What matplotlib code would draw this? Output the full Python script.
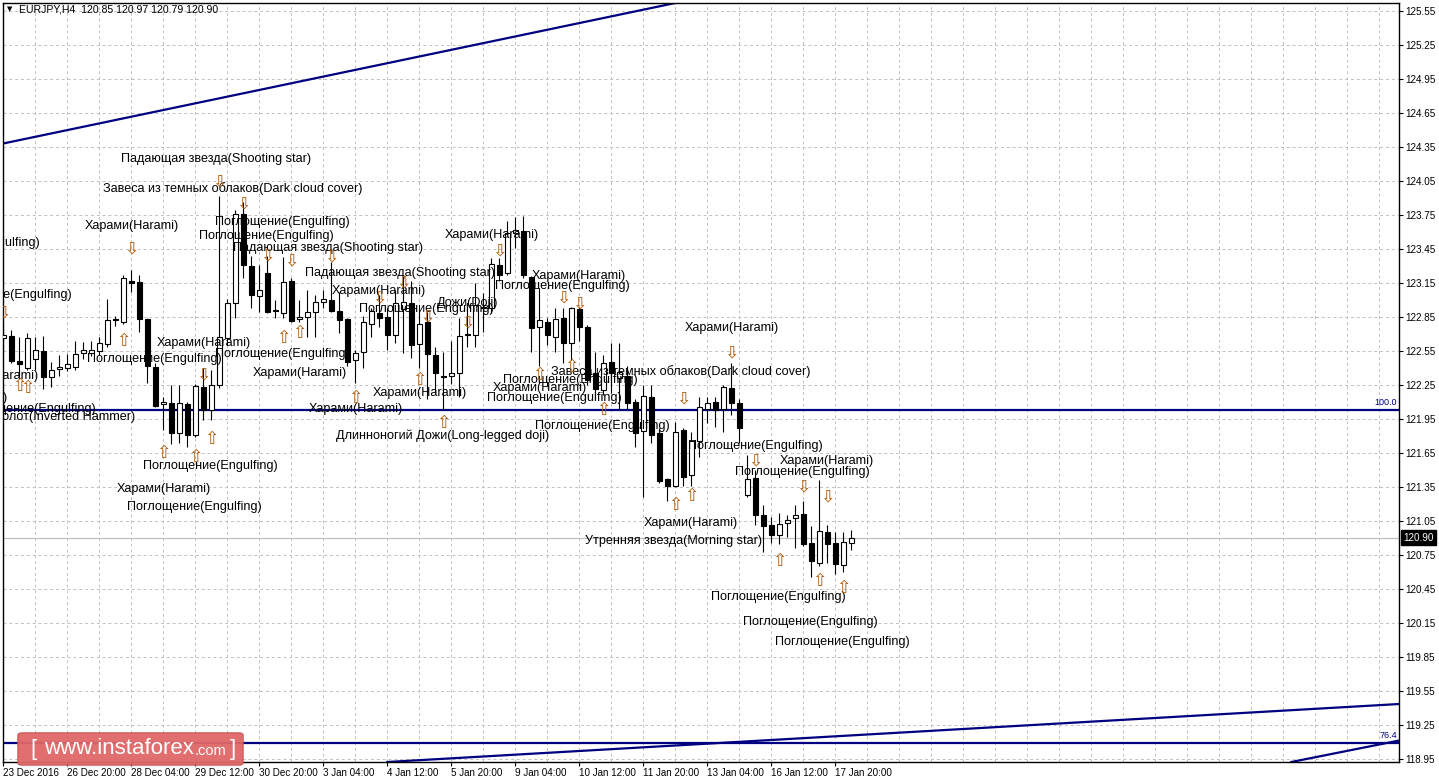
import matplotlib
matplotlib.use("Agg")
import matplotlib.pyplot as plt
import matplotlib.transforms as mtransforms
from matplotlib.patches import FancyBboxPatch

plt.rcParams['font.family'] = ['Liberation Sans', 'DejaVu Sans']

W, H = 1439, 783

# EURJPY H4 bars, left to right
opens = [122.66, 122.68, 122.46, 122.40, 122.48, 122.55, 122.32, 122.39, 122.40, 122.41,
         122.53, 122.53, 122.55, 122.61, 122.83, 122.80, 123.17, 123.16, 122.83, 122.41,
         122.08, 122.09, 121.82, 122.08, 121.81, 122.23, 122.03, 122.25, 122.66, 122.97,
         123.76, 123.30, 123.03, 123.24, 122.91, 122.88, 123.17, 122.83, 122.85, 122.89,
         122.98, 123.00, 122.90, 122.83, 122.47, 122.54, 122.79, 122.88, 122.85, 122.69,
         122.92, 122.97, 122.61, 122.80, 122.51, 122.33, 122.33, 122.35, 122.69, 122.69,
         122.93, 122.93, 123.31, 123.24, 123.59, 123.61, 123.20, 122.76, 122.80, 122.67,
         122.84, 122.62, 122.92, 122.76, 122.35, 122.20, 122.45, 122.31, 122.33, 122.10,
         121.84, 122.14, 121.82, 121.42, 121.36, 121.85, 121.45, 121.75, 122.04, 122.10,
         122.04, 122.22, 122.09, 121.28, 121.43, 121.10, 121.01, 120.92, 121.03, 121.07,
         121.11, 120.85, 120.68, 120.95, 120.85, 120.66, 120.85]
highs = [122.78, 122.73, 122.67, 122.71, 122.67, 122.68, 122.45, 122.51, 122.52, 122.64,
         122.63, 122.64, 122.67, 123.01, 122.86, 123.22, 123.26, 123.22, 122.84, 122.44,
         122.14, 122.25, 122.25, 122.10, 122.26, 122.40, 122.38, 123.92, 123.01, 123.79,
         123.86, 123.39, 123.31, 123.39, 123.00, 123.38, 123.19, 123.00, 123.09, 123.04,
         123.09, 123.33, 123.07, 122.84, 122.56, 122.86, 122.93, 123.04, 122.93, 123.09,
         123.22, 123.17, 122.91, 122.89, 122.58, 122.54, 122.64, 122.84, 122.93, 123.15,
         123.06, 123.37, 123.37, 123.70, 123.73, 123.74, 123.21, 123.09, 122.84, 122.93,
         122.93, 122.94, 122.94, 122.78, 122.54, 122.51, 122.62, 122.62, 122.42, 122.12,
         122.25, 122.25, 121.87, 121.43, 121.92, 121.87, 121.83, 122.14, 122.14, 122.14,
         122.25, 122.44, 122.12, 121.63, 121.50, 121.19, 121.08, 121.12, 121.10, 121.19,
         121.22, 121.00, 121.41, 121.01, 120.95, 120.95, 120.97]
lows = [122.54, 122.44, 122.32, 122.38, 122.38, 122.21, 122.23, 122.33, 122.37, 122.38,
        122.48, 122.50, 122.51, 122.58, 122.77, 122.79, 123.07, 122.72, 122.27, 122.05,
        121.85, 121.73, 121.74, 121.70, 121.79, 121.94, 121.94, 122.22, 122.60, 122.84,
        123.19, 122.93, 122.89, 122.88, 122.84, 122.84, 122.80, 122.80, 122.67, 122.67,
        122.93, 122.89, 122.71, 122.42, 122.27, 122.40, 122.67, 122.76, 122.56, 122.62,
        122.53, 122.49, 122.40, 122.12, 122.18, 122.03, 122.26, 122.14, 122.58, 122.58,
        122.72, 122.88, 123.17, 123.22, 123.46, 123.19, 122.54, 122.42, 122.60, 122.54,
        122.44, 122.47, 122.64, 122.25, 122.12, 122.16, 122.18, 122.03, 122.04, 121.70,
        121.26, 121.74, 121.38, 121.22, 121.35, 121.36, 121.36, 121.61, 121.91, 121.88,
        121.83, 121.98, 121.74, 121.26, 121.01, 120.77, 120.85, 120.84, 120.91, 120.81,
        120.83, 120.55, 120.65, 120.68, 120.58, 120.60, 120.79]
closes = [122.69, 122.46, 122.43, 122.66, 122.56, 122.32, 122.38, 122.41, 122.43, 122.52,
          122.56, 122.56, 122.62, 122.82, 122.82, 123.19, 123.15, 122.83, 122.42, 122.06,
          122.10, 121.82, 122.09, 121.81, 122.24, 122.03, 122.25, 122.67, 122.97, 123.76,
          123.31, 123.04, 123.09, 122.89, 122.90, 123.16, 122.81, 122.85, 122.89, 122.98,
          123.01, 122.90, 122.82, 122.45, 122.53, 122.80, 122.90, 122.84, 122.69, 122.97,
          122.98, 122.60, 122.79, 122.52, 122.35, 122.32, 122.35, 122.68, 122.70, 122.95,
          122.94, 123.32, 123.22, 123.59, 123.62, 123.22, 122.75, 122.82, 122.69, 122.83,
          122.62, 122.93, 122.76, 122.29, 122.21, 122.44, 122.35, 122.36, 122.09, 121.82,
          122.15, 121.81, 121.40, 121.36, 121.83, 121.44, 121.75, 122.05, 122.09, 122.03,
          122.23, 122.09, 121.87, 121.42, 121.10, 121.00, 120.92, 121.02, 121.06, 121.10,
          120.84, 120.69, 120.96, 120.84, 120.67, 120.86, 120.90]

date_positions = [0, 8, 16, 24, 32, 40, 48, 56, 64, 72, 80, 88, 96, 104]
date_labels = ["23 Dec 2016", "26 Dec 20:00", "28 Dec 04:00", "29 Dec 12:00", "30 Dec 20:00",
               "3 Jan 04:00", "4 Jan 12:00", "5 Jan 20:00", "9 Jan 04:00", "10 Jan 12:00",
               "11 Jan 20:00", "13 Jan 04:00", "16 Jan 12:00", "17 Jan 20:00"]
price_ticks = [118.95, 119.25, 119.55, 119.85, 120.15, 120.45, 120.75, 121.05, 121.35,
               121.65, 121.95, 122.25, 122.55, 122.85, 123.15, 123.45, 123.75, 124.05,
               124.35, 124.65, 124.95, 125.25, 125.55]

# trend lines: two anchor points (bar, price) each
trend_upper = [(0, 124.38), (84, 125.62)]
trend_lower = [(48, 118.92), (174, 119.43)]
trend_short = [(161, 118.92), (174.5, 119.11)]
level_100 = 122.03
level_764 = 119.09

# candlestick pattern labels: text, bar, price, alignment
patterns = [
    ("Падающая звезда(Shooting star)", 14.71, 124.24, 'left'),
    ("Завеса из темных облаков(Dark cloud cover)", 12.46, 123.98, 'left'),
    ("Харами(Harami)", 10.21, 123.65, 'left'),
    ("Поглощение(Engulfing)", 26.46, 123.69, 'left'),
    ("Поглощение(Engulfing)", 24.46, 123.56, 'left'),
    ("Падающая звезда(Shooting star)", 28.71, 123.46, 'left'),
    ("Падающая звезда(Shooting star)", 37.71, 123.24, 'left'),
    ("Харами(Harami)", 55.21, 123.57, 'left'),
    ("Поглощение(Engulfing)", 4.59, 123.50, 'right'),
    ("Поглощение(Engulfing)", 8.59, 123.04, 'right'),
    ("Харами(Harami)", 66.09, 123.21, 'left'),
    ("Поглощение(Engulfing)", 61.46, 123.12, 'left'),
    ("Харами(Harami)", 41.09, 123.08, 'left'),
    ("Дожи(Doji)", 54.21, 122.97, 'left'),
    ("Поглощение(Engulfing)", 44.46, 122.92, 'left'),
    ("Харами(Harami)", 85.21, 122.75, 'left'),
    ("Харами(Harami)", 19.21, 122.62, 'left'),
    ("Поглощение(Engulfing)", 10.46, 122.48, 'left'),
    ("Поглощение(Engulfing)", 26.46, 122.52, 'left'),
    ("Харами(Harami)", 31.21, 122.35, 'left'),
    ("Харами(Harami)", 4.46, 122.33, 'right'),
    ("Завеса из темных облаков(Dark cloud cover)", 68.46, 122.37, 'left'),
    ("Поглощение(Engulfing)", 62.46, 122.29, 'left'),
    ("Харами(Harami)", 61.21, 122.22, 'left'),
    ("Поглощение(Engulfing)", 60.46, 122.13, 'left'),
    ("Харами(Harami)", 46.21, 122.18, 'left'),
    ("Харами(Harami)", 38.21, 122.04, 'left'),
    ("Харами(Harami)", 0.59, 122.13, 'right'),
    ("Поглощение(Engulfing)", 11.59, 122.04, 'right'),
    ("Перевернутый молот(Inverted Hammer)", 16.46, 121.97, 'right'),
    ("Поглощение(Engulfing)", 66.46, 121.89, 'left'),
    ("Длинноногий Дожи(Long-legged doji)", 41.59, 121.80, 'left'),
    ("Поглощение(Engulfing)", 85.59, 121.71, 'left'),
    ("Харами(Harami)", 97.09, 121.58, 'left'),
    ("Поглощение(Engulfing)", 91.46, 121.48, 'left'),
    ("Поглощение(Engulfing)", 17.46, 121.53, 'left'),
    ("Харами(Harami)", 14.21, 121.33, 'left'),
    ("Поглощение(Engulfing)", 15.46, 121.17, 'left'),
    ("Харами(Harami)", 80.09, 121.03, 'left'),
    ("Утренняя звезда(Morning star)", 72.71, 120.87, 'left'),
    ("Поглощение(Engulfing)", 88.46, 120.38, 'left'),
    ("Поглощение(Engulfing)", 92.46, 120.16, 'left'),
    ("Поглощение(Engulfing)", 96.46, 119.98, 'left'),
]

down_arrows = [(0, 122.89), (16, 123.45), (27, 124.04), (30, 123.85), (33, 123.39),
               (36, 123.35), (41, 123.38), (47, 123.02), (50, 123.15), (53, 122.85),
               (58, 122.80), (62, 123.43), (70, 123.02), (72, 122.97), (25, 122.34),
               (85, 122.13), (91, 122.53), (94, 121.58), (100, 121.35), (103, 121.26)]
up_arrows = [(2, 122.24), (3, 122.22), (15, 122.64), (20, 121.65), (24, 121.61),
             (26, 121.77), (35, 122.66), (37, 122.71), (44, 122.13), (52, 122.29),
             (55, 121.91), (67, 122.34), (71, 122.41), (75, 122.03), (84, 121.19),
             (86, 121.27), (97, 120.69), (102, 120.52), (105, 120.46)]

navy = '#000080'
grid_c = '#c0c0c0'
arrow_c = '#b05a08'

fig = plt.figure(figsize=(W / 100, H / 100), dpi=100)
fig.patch.set_facecolor('white')
ax = fig.add_axes([3 / W, 21 / H, 1396 / W, 759 / H])
ax.set_xlim(-0.04, 174.46)
ax.set_ylim(118.92, 125.62)

# grid
for k in range(0, 44):
    ax.axvline(4 * k, color=grid_c, lw=0.7, ls=(0, (3, 3)), zorder=0)
for p in price_ticks:
    ax.axhline(p, color=grid_c, lw=0.7, ls=(0, (3, 3)), zorder=0)
ax.axhline(closes[-1], color=grid_c, lw=0.9, zorder=1)

# candles
n = len(opens)
for i in range(n):
    o, h, l, c = opens[i], highs[i], lows[i], closes[i]
    ax.vlines(i, l, h, color='black', lw=0.8, zorder=3)
    fill = 'white' if c > o else 'black'
    lo, hi = min(o, c), max(o, c)
    ax.bar(i, max(hi - lo, 0.006), bottom=lo, width=0.62, color=fill,
           edgecolor='black', linewidth=0.8, zorder=4)

# trend lines and levels
ax.axline(trend_upper[0], trend_upper[1], color=navy, lw=1.6, zorder=2)
ax.axline(trend_lower[0], trend_lower[1], color=navy, lw=1.6, zorder=2)
ax.axline(trend_short[0], trend_short[1], color=navy, lw=1.6, zorder=2)
ax.axhline(level_100, color=navy, lw=1.6, zorder=2)
ax.axhline(level_764, color=navy, lw=1.6, zorder=2)
ax.text(174.2, level_100 + 0.02, "100.0", color=navy, fontsize=6.5,
        ha='right', va='bottom', zorder=5)
ax.text(174.2, level_764 + 0.02, "76.4", color=navy, fontsize=6.5,
        ha='right', va='bottom', zorder=5)

# pattern labels and arrows
for txt, x, y, al in patterns:
    ax.text(x, y, txt, fontsize=9.1, color='black', ha=al, va='center',
            clip_on=True, zorder=6)
for x, y in down_arrows:
    ax.text(x, y, "⇩", fontsize=12.5, color=arrow_c, ha='center', va='center',
            family='DejaVu Sans', clip_on=True, zorder=6)
for x, y in up_arrows:
    ax.text(x, y, "⇧", fontsize=12.5, color=arrow_c, ha='center', va='center',
            family='DejaVu Sans', clip_on=True, zorder=6)

# axes styling
for s in ax.spines.values():
    s.set_color('black')
    s.set_linewidth(1)
ax.yaxis.tick_right()
ax.set_yticks(price_ticks)
ax.set_yticklabels([f"{p:.2f}" for p in price_ticks])
ax.set_xticks(date_positions)
ax.set_xticklabels(date_labels, ha='left')
ax.tick_params(axis='both', direction='out', length=3, width=0.8, color='black',
               labelsize=7.1, labelcolor='black')
ax.tick_params(axis='y', pad=1.5)
ax.tick_params(axis='x', pad=1.5)

# current price marker
blend = mtransforms.blended_transform_factory(ax.transAxes, ax.transData)
ax.text(1.0028, closes[-1], f"{closes[-1]:.2f}", transform=blend, fontsize=7.1,
        color='white', ha='left', va='center', clip_on=False, zorder=10,
        bbox=dict(facecolor='black', edgecolor='black', pad=1.6))

# header
ax.text(0.0028, 0.992, "▼", transform=ax.transAxes, fontsize=5, color='black',
        ha='left', va='center', family='DejaVu Sans')
ax.text(0.0115, 0.992, "EURJPY,H4  120.85 120.97 120.79 120.90", transform=ax.transAxes,
        fontsize=7.6, color='black', ha='left', va='center')

# watermark
box = FancyBboxPatch((20 / W, 1 - 764 / H), 221 / W, 30 / H,
                     boxstyle="round,pad=0.0015,rounding_size=0.003",
                     transform=fig.transFigure, facecolor='#e06767',
                     edgecolor='#c85252', lw=0.8, alpha=0.95, zorder=20)
fig.patches.append(box)
fig.text(30 / W, 1 - 750 / H, "[", fontsize=16, color='white', ha='left', va='center', zorder=21)
wm = fig.text(44 / W, 1 - 749 / H, "www.instaforex", fontsize=16, color='white',
              ha='left', va='center', zorder=21)
fig.canvas.draw()
bb = wm.get_window_extent()
fig.text(bb.x1 / W + 0.0005, 1 - 751 / H, ".com", fontsize=10.5, color='white', ha='left',
         va='center', zorder=21)
fig.text(230 / W, 1 - 750 / H, "]", fontsize=16, color='white', ha='left', va='center', zorder=21)

fig.savefig("out.png", dpi=100)
